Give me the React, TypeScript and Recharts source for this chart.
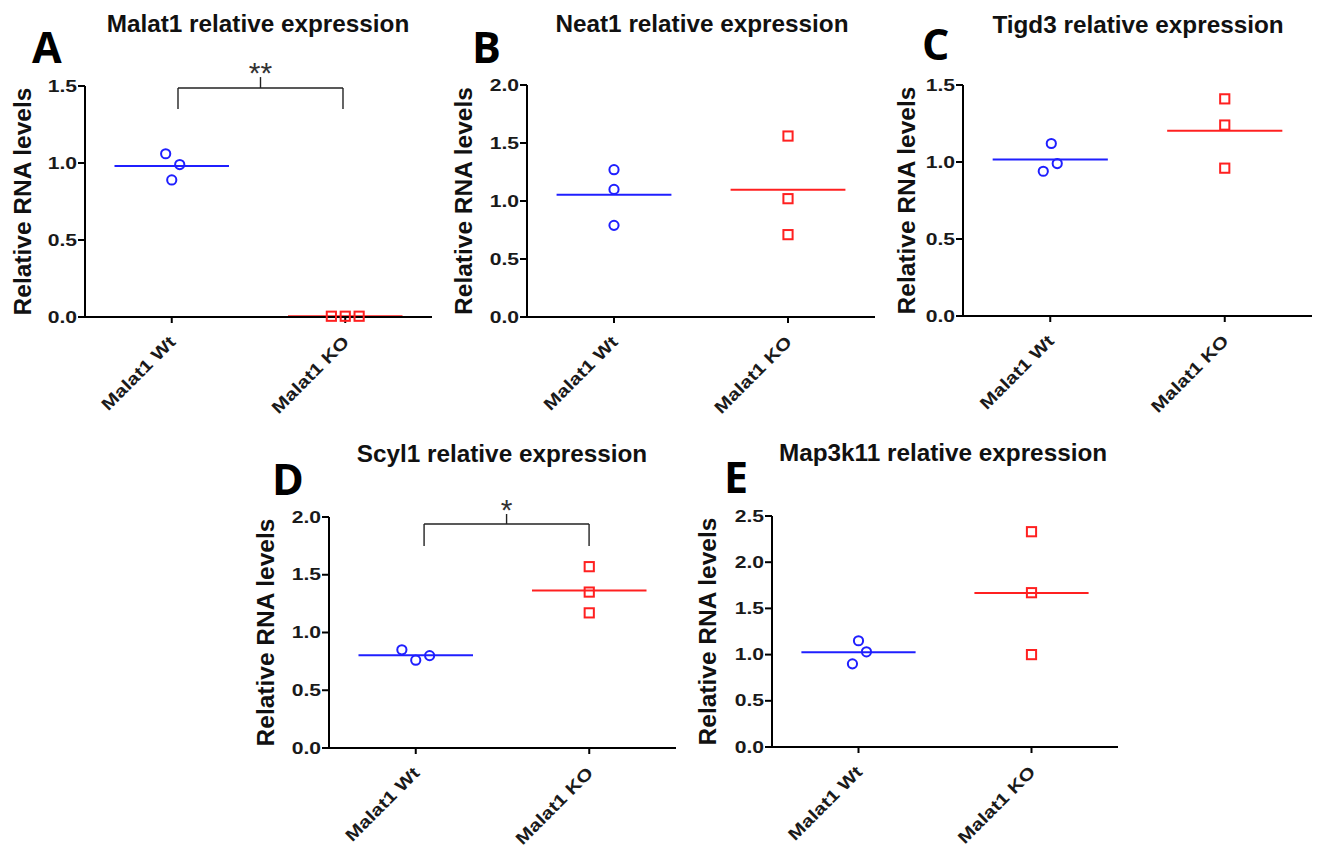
import React from 'react';
import { ScatterChart, Scatter, XAxis, YAxis, ReferenceLine, ReferenceDot } from 'recharts';

// ---------- data ----------
const categories = ['Malat1 Wt', 'Malat1 KO'];
const categoryPositions = [0.5, 1.5];

const titles = [
  'Malat1 relative expression',
  'Neat1 relative expression',
  'Tigd3 relative expression',
  'Scyl1 relative expression',
  'Map3k11 relative expression',
];
const letters = ['A', 'B', 'C', 'D', 'E'];
const yMaxes = [1.5, 2.0, 1.5, 2.0, 2.5];

const malat1Wt = [1.06, 0.99, 0.89];
const malat1KO = [0.005, 0.005, 0.005];
const neat1Wt = [1.27, 1.1, 0.79];
const neat1KO = [1.56, 1.02, 0.71];
const tigd3Wt = [1.12, 0.99, 0.94];
const tigd3KO = [1.41, 1.24, 0.96];
const scyl1Wt = [0.85, 0.76, 0.8];
const scyl1KO = [1.57, 1.35, 1.17];
const map3k11Wt = [1.15, 1.03, 0.9];
const map3k11KO = [2.33, 1.67, 1.0];

// horizontal scatter of the replicate dots (category units)
const malat1WtJitter = [-0.035, 0.046, 0];
const malat1KOJitter = [-0.08, 0, 0.08];
const neat1WtJitter = [0, 0, 0];
const neat1KOJitter = [0, 0, 0];
const tigd3WtJitter = [0.006, 0.04, -0.04];
const tigd3KOJitter = [0, 0, 0];
const scyl1WtJitter = [-0.08, 0, 0.08];
const scyl1KOJitter = [0, 0, 0];
const map3k11WtJitter = [0, 0.046, -0.035];
const map3k11KOJitter = [0, 0, 0];

const malat1Sig = { label: '**', x1: 0.536, x2: 1.487, y: 1.487, drop: 1.35, top: 1.558 };
const scyl1Sig = { label: '*', x1: 0.548, x2: 1.499, y: 1.94, drop: 1.749, top: 2.026 };

const wtSets = [malat1Wt, neat1Wt, tigd3Wt, scyl1Wt, map3k11Wt];
const koSets = [malat1KO, neat1KO, tigd3KO, scyl1KO, map3k11KO];
const wtJitters = [malat1WtJitter, neat1WtJitter, tigd3WtJitter, scyl1WtJitter, map3k11WtJitter];
const koJitters = [malat1KOJitter, neat1KOJitter, tigd3KOJitter, scyl1KOJitter, map3k11KOJitter];
const sigs = [malat1Sig, null, null, scyl1Sig, null];

// ---------- layout ----------
const plotBoxes = [
  { L: 85, T: 86, R: 432, B: 317 },
  { L: 527, T: 85, R: 875, B: 317 },
  { L: 963, T: 85, R: 1312, B: 316 },
  { L: 329, T: 517, R: 676, B: 748 },
  { L: 772, T: 516, R: 1118, B: 747 },
];
const titlePos = [
  { x: 258, y: 32 },
  { x: 702, y: 32 },
  { x: 1138, y: 33 },
  { x: 502, y: 462 },
  { x: 943, y: 461 },
];
const letterPos = [
  { x: 32, y: 63 },
  { x: 472, y: 63 },
  { x: 922, y: 60 },
  { x: 272, y: 495 },
  { x: 724, y: 493 },
];
const yLabelOffsets = [63, 64, 57, 64, 65];

const BLUE = '#1f1fff';
const RED = '#ff2020';
const AXIS_W = 90;
const TOP_M = 45;
const BOT_H = 100;
const RIGHT_M = 8;
const HALF_LINE = 0.33;
const Y_STRETCH = 1.32;
const X_STRETCH = 1.22;

const mean = (a: number[]) => a.reduce((s, v) => s + v, 0) / a.length;

const labelFont = { fontFamily: '"Liberation Sans", Arial, sans-serif', fontWeight: 700 } as const;

const YTick = (props: any) => {
  const { x, y, payload } = props;
  return (
    <text
      x={0}
      y={0}
      transform={`translate(${x + 1},${y}) scale(${Y_STRETCH},1)`}
      textAnchor="end"
      dominantBaseline="central"
      fontSize={16}
      fill="#1a1a1a"
      style={labelFont}
    >
      {Number(payload.value).toFixed(1)}
    </text>
  );
};

const XTick = (props: any) => {
  const { x, y, payload } = props;
  const idx = categoryPositions.indexOf(payload.value);
  return (
    <g transform={`translate(${x + 5},${y + 18})`}>
      <text x={0} y={0} textAnchor="end" transform={`rotate(-45) scale(${X_STRETCH},1)`} fontSize={17} fill="#1a1a1a" style={labelFont}>
        {categories[idx]}
      </text>
    </g>
  );
};

const Circle = (props: any) => (
  <circle cx={props.cx} cy={props.cy} r={4.6} fill="none" stroke={BLUE} strokeWidth={2} />
);
const Square = (props: any) => (
  <rect x={props.cx - 4.6} y={props.cy - 4.6} width={9.2} height={9.2} fill="none" stroke={RED} strokeWidth={2} />
);

function Panel({ i }: { i: number }) {
  const box = plotBoxes[i];
  const pw = box.R - box.L;
  const ph = box.B - box.T;
  const width = AXIS_W + pw + RIGHT_M;
  const height = TOP_M + ph + BOT_H;
  const ymax = yMaxes[i];
  const yTicks: number[] = [];
  for (let v = 0; v <= ymax + 1e-9; v += 0.5) yTicks.push(Math.round(v * 10) / 10);
  const wtData = wtSets[i].map((v, k) => ({ x: categoryPositions[0] + wtJitters[i][k], y: v }));
  const koData = koSets[i].map((v, k) => ({ x: categoryPositions[1] + koJitters[i][k], y: v }));
  const wtMean = mean(wtSets[i]);
  const koMean = mean(koSets[i]);
  const sig = sigs[i];
  const labelOffset = yLabelOffsets[i];

  const YLabel = (p: any) => {
    const vb = p.viewBox;
    const cx = vb.x + vb.width - labelOffset;
    const cy = vb.y + vb.height / 2;
    return (
      <text x={cx} y={cy} transform={`rotate(-90, ${cx}, ${cy})`} textAnchor="middle" dominantBaseline="central" fontSize={24.5} fill="#111" style={labelFont}>
        Relative RNA levels
      </text>
    );
  };

  const SigText = (p: any) => (
    <text x={p.cx} y={p.cy + 6} textAnchor="middle" fontSize={30} fill="#333" style={{ fontFamily: '"Liberation Sans", Arial, sans-serif' }}>
      {sig ? sig.label : ''}
    </text>
  );

  return (
    <div style={{ position: 'absolute', left: box.L - AXIS_W, top: box.T - TOP_M }}>
      <ScatterChart width={width} height={height} margin={{ top: TOP_M, right: RIGHT_M, bottom: 0, left: 0 }}>
        <XAxis
          type="number"
          dataKey="x"
          domain={[0, 2]}
          ticks={categoryPositions}
          interval={0}
          height={BOT_H}
          tick={<XTick />}
          tickSize={6}
          axisLine={{ stroke: '#000', strokeWidth: 2 }}
          tickLine={{ stroke: '#000', strokeWidth: 2 }}
        />
        <YAxis
          type="number"
          dataKey="y"
          domain={[0, ymax]}
          ticks={yTicks}
          interval={0}
          width={AXIS_W}
          tick={<YTick />}
          tickSize={7}
          axisLine={{ stroke: '#000', strokeWidth: 2 }}
          tickLine={{ stroke: '#000', strokeWidth: 2 }}
          label={<YLabel />}
        />
        <ReferenceLine
          segment={[{ x: categoryPositions[0] - HALF_LINE, y: wtMean }, { x: categoryPositions[0] + HALF_LINE, y: wtMean }]}
          stroke={BLUE}
          strokeWidth={2}
          ifOverflow="visible"
        />
        <ReferenceLine
          segment={[{ x: categoryPositions[1] - HALF_LINE, y: koMean }, { x: categoryPositions[1] + HALF_LINE, y: koMean }]}
          stroke={RED}
          strokeWidth={2}
          ifOverflow="visible"
        />
        {sig && (
          <ReferenceLine
            segment={[{ x: sig.x1, y: sig.drop }, { x: sig.x1, y: sig.y }]}
            stroke="#222"
            strokeWidth={1.4}
            ifOverflow="visible"
          />
        )}
        {sig && (
          <ReferenceLine
            segment={[{ x: sig.x1, y: sig.y }, { x: sig.x2, y: sig.y }]}
            stroke="#222"
            strokeWidth={1.4}
            ifOverflow="visible"
          />
        )}
        {sig && (
          <ReferenceLine
            segment={[{ x: sig.x2, y: sig.y }, { x: sig.x2, y: sig.drop }]}
            stroke="#222"
            strokeWidth={1.4}
            ifOverflow="visible"
          />
        )}
        {sig && (
          <ReferenceLine
            segment={[{ x: (sig.x1 + sig.x2) / 2, y: sig.y }, { x: (sig.x1 + sig.x2) / 2, y: sig.top }]}
            stroke="#222"
            strokeWidth={1.4}
            ifOverflow="visible"
          />
        )}
        {sig && (
          <ReferenceDot x={(sig.x1 + sig.x2) / 2} y={sig.top} r={0} ifOverflow="visible" shape={<SigText />} />
        )}
        <Scatter data={wtData} shape={<Circle />} isAnimationActive={false} />
        <Scatter data={koData} shape={<Square />} isAnimationActive={false} />
      </ScatterChart>
    </div>
  );
}

export default function App() {
  return (
    <div style={{ position: 'absolute', left: 0, top: 0, width: 1319, height: 849, background: '#fff', overflow: 'hidden' }}>
      {titles.map((_, i) => (
        <Panel key={i} i={i} />
      ))}
      <svg width={1319} height={849} style={{ position: 'absolute', left: 0, top: 0, pointerEvents: 'none' }}>
        {titles.map((t, i) => (
          <text key={'t' + i} x={titlePos[i].x} y={titlePos[i].y} textAnchor="middle" fontSize={24.3} fill="#111" style={labelFont}>
            {t}
          </text>
        ))}
        {letters.map((l, i) => (
          <text key={'l' + i} x={letterPos[i].x} y={letterPos[i].y} fontSize={43} fill="#000" style={{ fontFamily: '"Open Sans", sans-serif', fontWeight: 700 }}>
            {l}
          </text>
        ))}
      </svg>
    </div>
  );
}
